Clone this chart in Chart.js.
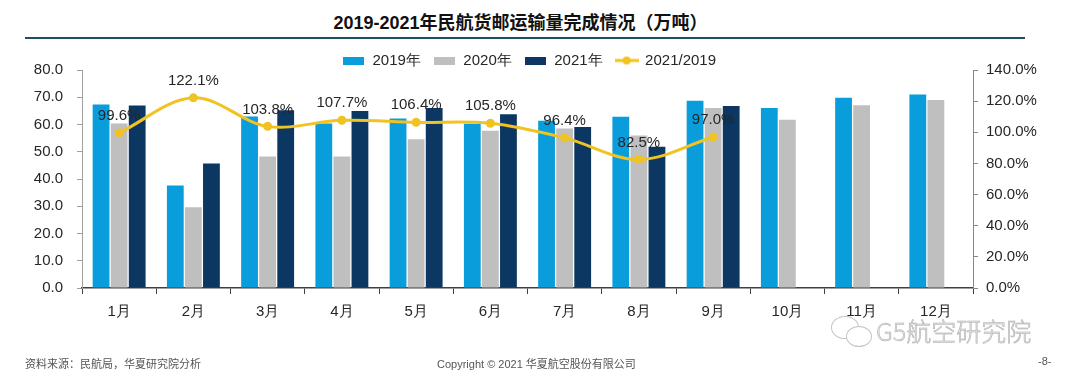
<!DOCTYPE html>
<html>
<head>
<meta charset="utf-8">
<script src="https://cdn.jsdelivr.net/npm/chart.js@4.4.1/dist/chart.umd.min.js"></script>
<style>
  html, body { margin: 0; padding: 0; background: #fff; }
  body { width: 1075px; height: 377px; position: relative; overflow: hidden;
         font-family: "Liberation Sans", "Noto Sans CJK SC", sans-serif; }
  #myChart { position: absolute; left: 0; top: 0; }
  .title { position: absolute; left: 0; width: 1041px; top: 8px; text-align: center;
           font-size: 18px; font-weight: bold; color: #111; }
  .rule { position: absolute; left: 25px; width: 1000px; top: 37px; height: 2px; background: #1f4e5f; }
  .foot { position: absolute; top: 355px; font-size: 11px; color: #555; }
  .mark { position: absolute; left: 876px; top: 312px; font-size: 25px; color: #e6e6e6;
          -webkit-text-stroke: 0.5px #a8a8a8; font-family: "Noto Sans CJK SC", sans-serif; font-weight: 300; }
  .bubble { position: absolute; border: 1.5px solid #c4c4c4; border-radius: 50%; background: #fff; }
</style>
</head>
<body>
<div class="title">2019-2021年民航货邮运输量完成情况（万吨）</div>
<div class="rule"></div>
<canvas id="myChart" width="1075" height="377"></canvas>
<div class="bubble" style="left:831px; top:316px; width:26px; height:21px;"></div>
<div class="bubble" style="left:846px; top:326px; width:24px; height:19px;"></div>
<div class="mark">G5航空研究院</div>
<div class="foot" style="left:25px;">资料来源：民航局，华夏研究院分析</div>
<div class="foot" style="left:437px;">Copyright © 2021 华夏航空股份有限公司</div>
<div class="foot" style="left:1038px;">-8-</div>
<script>
const months = ['1月', '2月', '3月', '4月', '5月', '6月', '7月', '8月', '9月', '10月', '11月', '12月'];
const cargo2019 = [67.3, 37.6, 62.9, 60.4, 62.2, 60.3, 61.4, 62.8, 68.7, 66.1, 69.8, 71.0];
const cargo2020 = [60.4, 29.6, 48.3, 48.3, 54.6, 57.7, 58.5, 56.0, 66.1, 61.7, 67.1, 69.0];
const cargo2021 = [67.0, 45.7, 65.2, 65.0, 66.1, 63.8, 59.1, 51.8, 66.8, null, null, null];
const ratio2021to2019 = [99.6, 122.1, 103.8, 107.7, 106.4, 105.8, 96.4, 82.5, 97.0, null, null, null];

const leftTicks = { min: 0, max: 80, step: 10 };
const rightTicks = { min: 0, max: 140, step: 20 };

const blue = '#0a9ddb', grey = '#bfbfbf', navy = '#0b3762', gold = '#f0c322';

// legend swatches
function rectSwatch(color) {
    let c = document.createElement('canvas');
    c.width = 21; c.height = 8;
    let g = c.getContext('2d');
    g.fillStyle = color;
    g.fillRect(0, 0, 21, 8);
    return c;
}
function lineSwatch(color) {
    let c = document.createElement('canvas');
    c.width = 24; c.height = 10;
    let g = c.getContext('2d');
    g.strokeStyle = color; g.lineWidth = 3;
    g.beginPath(); g.moveTo(0, 5); g.lineTo(24, 5); g.stroke();
    g.fillStyle = color;
    g.beginPath(); g.arc(12, 5, 4, 0, Math.PI * 2); g.fill();
    return c;
}
const swatches = [rectSwatch(blue), rectSwatch(grey), rectSwatch(navy), lineSwatch(gold)];

// keep the legend short so the plot starts right under it
const legendHeight = {
    id: 'legendHeight',
    beforeLayout(chart) {
        const lg = chart.legend;
        if (!lg || lg._patched) return;
        const fit = lg.fit;
        lg.fit = function () { fit.call(this); this.height = 30; };
        lg._patched = true;
    }
};

// percent labels above the line points
const pointLabels = {
    id: 'pointLabels',
    afterDatasetsDraw(chart) {
        const meta = chart.getDatasetMeta(3);
        const ctx = chart.ctx;
        ctx.save();
        ctx.font = '15px "Liberation Sans", sans-serif';
        ctx.fillStyle = '#262626';
        ctx.textAlign = 'center';
        ctx.textBaseline = 'middle';
        meta.data.forEach((pt, i) => {
            const v = ratio2021to2019[i];
            if (v === null) return;
            ctx.fillText(v.toFixed(1) + '%', pt.x, pt.y - 17);
        });
        ctx.restore();
    }
};

const tickFont = { family: '"Liberation Sans", sans-serif', size: 15 };

let myChart = document.getElementById('myChart').getContext('2d');
let cargoChart = new Chart(myChart, {
    type: 'bar',
    data: {
        labels: months,
        datasets: [
            { label: '2019年', data: cargo2019, backgroundColor: blue, yAxisID: 'y', order: 1 },
            { label: '2020年', data: cargo2020, backgroundColor: grey, yAxisID: 'y', order: 1 },
            { label: '2021年', data: cargo2021, backgroundColor: navy, yAxisID: 'y', order: 1 },
            {
                type: 'line', label: '2021/2019', data: ratio2021to2019, yAxisID: 'y1', order: 0,
                borderColor: gold, backgroundColor: gold, borderWidth: 3, tension: 0.35,
                pointRadius: 4.5, pointBackgroundColor: gold, pointBorderWidth: 0
            }
        ]
    },
    options: {
        responsive: false,
        animation: false,
        layout: { padding: { top: 40, left: 0, right: 16, bottom: 0 } },
        datasets: { bar: { categoryPercentage: 0.73, barPercentage: 0.93 } },
        plugins: {
            tooltip: { enabled: false },
            legend: {
                position: 'top',
                labels: {
                    usePointStyle: true,
                    pointStyleWidth: 22,
                    boxHeight: 8,
                    padding: 13,
                    color: '#262626',
                    font: tickFont,
                    sort: (a, b) => a.datasetIndex - b.datasetIndex,
                    generateLabels(chart) {
                        const items = Chart.defaults.plugins.legend.labels.generateLabels(chart);
                        items.forEach(it => { it.pointStyle = swatches[it.datasetIndex]; });
                        return items;
                    }
                }
            }
        },
        scales: {
            x: {
                grid: { display: true, drawOnChartArea: false, drawTicks: true, tickLength: 6, color: '#404040' },
                border: { display: true, color: '#404040', width: 1.5 },
                ticks: { font: tickFont, color: '#262626', padding: 9 },
                afterFit(scale) { scale.height = 89; }
            },
            y: {
                position: 'left',
                min: leftTicks.min, max: leftTicks.max,
                grid: { display: true, drawOnChartArea: false, drawTicks: true, tickLength: 5, color: '#a0a0a0' },
                border: { display: true, color: '#a0a0a0' },
                ticks: { stepSize: leftTicks.step, font: tickFont, color: '#262626', padding: 14,
                         callback: v => v.toFixed(1) },
                afterFit(scale) { scale.width = 82; }
            },
            y1: {
                position: 'right',
                min: rightTicks.min, max: rightTicks.max,
                grid: { display: true, drawOnChartArea: false, drawTicks: true, tickLength: 5, color: '#6f8fa0' },
                border: { display: true, color: '#6f8fa0' },
                ticks: { stepSize: rightTicks.step, font: tickFont, color: '#262626', padding: 8,
                         callback: v => v.toFixed(1) + '%' },
                afterFit(scale) { scale.width = 86; }
            }
        }
    },
    plugins: [legendHeight, pointLabels]
});
</script>
</body>
</html>
